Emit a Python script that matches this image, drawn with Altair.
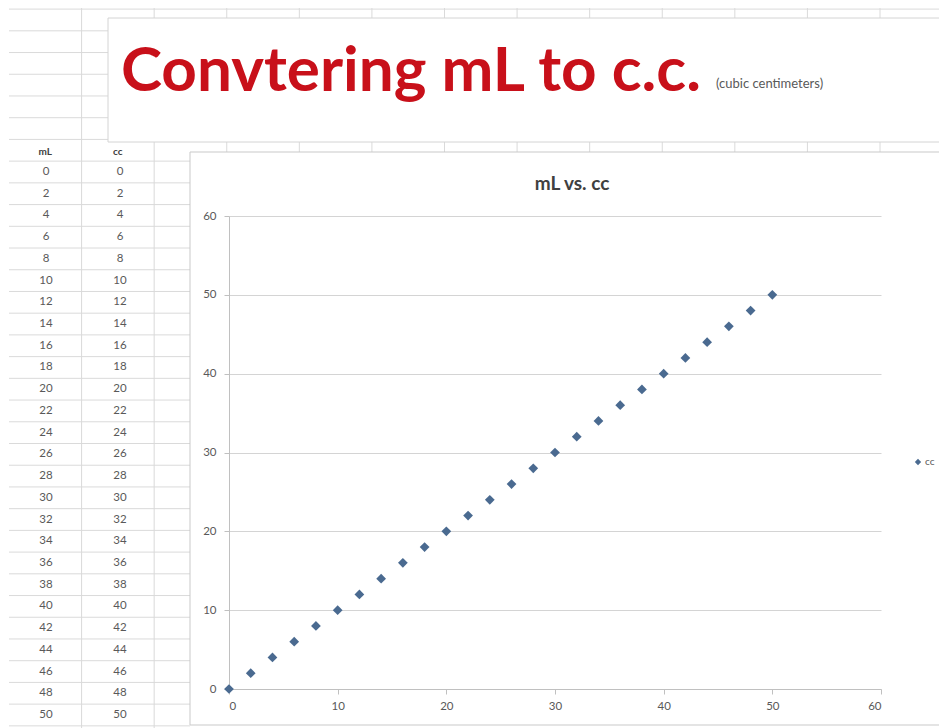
import altair as alt
import pandas as pd

# ---- data ----
ml_values = [0, 2, 4, 6, 8, 10, 12, 14, 16, 18, 20, 22, 24, 26, 28, 30, 32, 34, 36, 38, 40, 42, 44, 46, 48, 50]
cc_values = [0, 2, 4, 6, 8, 10, 12, 14, 16, 18, 20, 22, 24, 26, 28, 30, 32, 34, 36, 38, 40, 42, 44, 46, 48, 50]
series_name = "cc"
table_headers = ["mL", "cc"]
main_title = "Convtering mL to c.c."
sub_note = "(cubic centimeters)"
chart_title = "mL vs. cc"
axis_ticks = [0, 10, 20, 30, 40, 50, 60]

# ---- layout (plot origin at page pixel 229,216) ----
OX, OY = 229, 216
PW, PH = 652, 473
PAD_L, PAD_T = OX - 8, OY - 8
SVG_W, SVG_H = 931, 720
PAD_R = SVG_W - PAD_L - PW
PAD_B = SVG_H - PAD_T - PH

FONT = "Lato"
GRID_XL = "#dadada"
TEXT_GRAY = "#595959"
MARK_COLOR = "#4a6a90"

def px(x):
    return x - OX

def py(y):
    return y - OY

# spreadsheet row scale: row index -> pixel (row 0 centre at y=173, row 25 at y=716)
row_scale = alt.Scale(domain=[0, 25], range=[py(172), py(715)])
# spreadsheet column scale: column boundary index -> pixel (x=9 + 72.6 k)
col_scale = alt.Scale(domain=[0, 12], range=[px(9), px(880)])

scatter_df = pd.DataFrame({"mL": ml_values, "cc": cc_values, "series": series_name})
table_df = pd.DataFrame({
    "row": list(range(len(ml_values))),
    "mL": [str(v) for v in ml_values],
    "cc": [str(v) for v in cc_values],
})

# --- spreadsheet grid lines ---
upper_rows = pd.DataFrame({"r": [-7.5, -6.5, -5.5, -4.5, -3.5, -2.5, -1.5]})
lower_rows = pd.DataFrame({"r": [i - 0.5 for i in range(27)]})
left_cols = pd.DataFrame({"k": [1, 2]})
right_cols = pd.DataFrame({"k": [3, 4, 5, 6, 7, 8, 9, 10, 11, 12]})

rule_style = dict(color=GRID_XL, strokeWidth=1)

upper_row_lines = alt.Chart(upper_rows).mark_rule(**rule_style).encode(
    y=alt.Y("r:Q", scale=row_scale, axis=None),
    x=alt.value(px(9)), x2=alt.value(px(947)),
)
lower_row_lines = alt.Chart(lower_rows).mark_rule(**rule_style).encode(
    y=alt.Y("r:Q", scale=row_scale, axis=None),
    x=alt.value(px(9)), x2=alt.value(px(190)),
)
left_col_lines = alt.Chart(left_cols).mark_rule(**rule_style).encode(
    x=alt.X("k:Q", scale=col_scale, axis=None),
    y=alt.value(py(0)), y2=alt.value(py(728)),
)
right_col_lines = alt.Chart(right_cols).mark_rule(**rule_style).encode(
    x=alt.X("k:Q", scale=col_scale, axis=None),
    y=alt.value(py(0)), y2=alt.value(py(152)),
)

# --- title box ---
title_box = alt.Chart(pd.DataFrame({"a": [0]})).mark_rect(
    fill="white", stroke="#d4d4d4", strokeWidth=1
).encode(
    x=alt.value(px(108)), x2=alt.value(px(960)),
    y=alt.value(py(18)), y2=alt.value(py(142)),
)
title_text = alt.Chart(pd.DataFrame({"t": [main_title]})).mark_text(
    font=FONT, fontSize=62, fontWeight="bold", color="#c8101a",
    align="left", baseline="alphabetic",
).encode(x=alt.value(px(121)), y=alt.value(py(91)), text="t:N")
note_text = alt.Chart(pd.DataFrame({"t": [sub_note]})).mark_text(
    font=FONT, fontSize=13, color=TEXT_GRAY,
    align="left", baseline="alphabetic",
).encode(x=alt.value(px(716)), y=alt.value(py(88)), text="t:N")

# --- chart box ---
chart_box = alt.Chart(pd.DataFrame({"a": [0]})).mark_rect(
    fill="white", fillOpacity=0, stroke="#c9c9c9", strokeWidth=1
).encode(
    x=alt.value(px(190)), x2=alt.value(px(960)),
    y=alt.value(py(152)), y2=alt.value(py(725)),
)
chart_title_text = alt.Chart(pd.DataFrame({"t": [chart_title]})).mark_text(
    font=FONT, fontSize=19, fontWeight="bold", color="#404040",
    align="center", baseline="alphabetic",
).encode(x=alt.value(px(572)), y=alt.value(py(190)), text="t:N")

# --- table ---
header_df = pd.DataFrame({"h": table_headers, "c": [0.5, 1.5]})
headers = alt.Chart(header_df).mark_text(
    font=FONT, fontSize=10, fontWeight="bold", color="#404040",
    align="center", baseline="middle",
).encode(
    x=alt.X("c:Q", scale=col_scale, axis=None),
    y=alt.value(py(152)),
    text="h:N",
)
tbl_style = dict(font=FONT, fontSize=11.5, color=TEXT_GRAY, align="center", baseline="middle")
ml_col = alt.Chart(table_df).mark_text(**tbl_style).encode(
    y=alt.Y("row:Q", scale=row_scale, axis=None),
    x=alt.value(px(46)),
    text="mL:N",
)
cc_col = alt.Chart(table_df).mark_text(**tbl_style).encode(
    y=alt.Y("row:Q", scale=row_scale, axis=None),
    x=alt.value(px(120)),
    text="cc:N",
)

# --- scatter ---
scatter = alt.Chart(scatter_df).mark_point(
    shape="diamond", filled=True, size=95, opacity=1
).encode(
    x=alt.X("mL:Q", scale=alt.Scale(domain=[0, 60], nice=False),
            axis=alt.Axis(values=axis_ticks, title=None, grid=False,
                          domainColor="#c0c0c0", tickColor="#c0c0c0", tickSize=5,
                          labelColor=TEXT_GRAY, labelFont=FONT, labelFontSize=11.5,
                          labelPadding=6)),
    y=alt.Y("cc:Q", scale=alt.Scale(domain=[0, 60], nice=False),
            axis=alt.Axis(values=axis_ticks, title=None, grid=True, gridColor="#d4d4d4",
                          domainColor="#c0c0c0", tickColor="#c0c0c0", tickSize=5,
                          labelColor=TEXT_GRAY, labelFont=FONT, labelFontSize=11.5,
                          labelPadding=8)),
    color=alt.Color("series:N", scale=alt.Scale(range=[MARK_COLOR]),
                    legend=alt.Legend(orient="none", legendX=px(913), legendY=py(457),
                                      title=None, symbolType="diamond", symbolSize=40,
                                      labelFont=FONT, labelFontSize=10, labelColor=TEXT_GRAY,
                                      labelOffset=2)),
)

chart = alt.layer(
    upper_row_lines, lower_row_lines, left_col_lines, right_col_lines,
    title_box, title_text, note_text,
    chart_box, chart_title_text,
    headers, ml_col, cc_col,
    scatter,
).resolve_scale(x="independent", y="independent", color="independent").properties(
    width=PW, height=PH,
    autosize=alt.AutoSizeParams(type="none"),
    padding={"left": PAD_L, "top": PAD_T, "right": PAD_R, "bottom": PAD_B},
    background="white",
).configure_view(stroke=None)

chart.save("out.html", embed_options={"renderer": "svg", "actions": False})
